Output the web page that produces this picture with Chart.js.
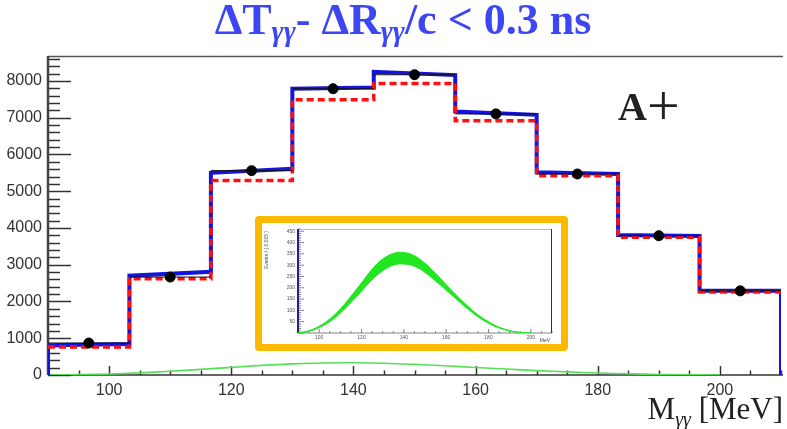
<!DOCTYPE html>
<html>
<head>
<meta charset="utf-8">
<script src="https://cdn.jsdelivr.net/npm/chart.js@4.4.0/dist/chart.umd.min.js"></script>
<style>
html, body { margin:0; padding:0; background:#fff; }
#wrap { position:relative; width:787px; height:429px; overflow:hidden; }
#inset { position:absolute; left:255px; top:216px; width:299px; height:121px;
         border:7px solid #ffb800; border-radius:4px; background:#fff; }
#inset canvas, #wrap > canvas { display:block; }
</style>
</head>
<body>
<div id="wrap">
  <canvas id="main" width="787" height="429"></canvas>
  <div id="inset"><canvas id="small" width="299" height="121"></canvas></div>
</div>
<script>
// histogram bins (MeV)
var binEdges   = [90, 103.33, 116.67, 130, 143.33, 156.67, 170, 183.33, 196.67, 210];
var binCenters = [96.67, 110, 123.33, 136.67, 150, 163.33, 176.67, 190, 203.33];

// data points, fit (blue, left/right end of each bin) and background (red dashed)
var dataCounts = [870, 2665, 5560, 7790, 8170, 7105, 5470, 3790, 2290];
var fitLeft    = [810, 2700, 5500, 7790, 8250, 7170, 5520, 3810, 2290];
var fitRight   = [845, 2810, 5610, 7820, 8160, 7080, 5470, 3780, 2290];
var bkgCounts  = [760, 2620, 5290, 7490, 7930, 6920, 5420, 3750, 2260];

// signal shape (green)
var massGrid   = [90, 95, 100, 105, 110, 115, 120, 125, 130, 135, 140, 145, 150, 155, 160, 165, 170, 175, 180, 185, 190, 195, 200];
var signalMain = [0, 9, 28, 58, 100, 152, 208, 262, 302, 328, 332, 320, 290, 250, 206, 162, 120, 84, 55, 32, 15, 5, 0];
var signalLow  = [0, 7, 24, 50, 88, 135, 185, 236, 275, 300, 305, 295, 268, 230, 190, 148, 108, 72, 43, 22, 9, 2, 0];
var signalHigh = [0, 10, 30, 62, 106, 162, 222, 282, 327, 352, 356, 342, 308, 263, 214, 166, 121, 81, 50, 26, 11, 3, 0];

var xTicks = [100, 120, 140, 160, 180, 200];
var yTicks = [0, 1000, 2000, 3000, 4000, 5000, 6000, 7000, 8000];
var insetXTicks = [100, 120, 140, 160, 180, 200];
var insetYTicks = [50, 100, 150, 200, 250, 300, 350, 400, 450];

var fitPoints = [{x: binEdges[0], y: 0}];
var bkgPoints = [];
var barPoints = [];
var dotPoints = [];
for (var i = 0; i < binCenters.length; i++) {
    fitPoints.push({x: binEdges[i], y: fitLeft[i]});
    fitPoints.push({x: binEdges[i + 1], y: fitRight[i]});
    bkgPoints.push({x: binEdges[i], y: bkgCounts[i]});
    barPoints.push({x: binEdges[i], y: dataCounts[i]});
    barPoints.push({x: binEdges[i + 1], y: dataCounts[i]});
    barPoints.push({x: binEdges[i + 1], y: null});
    dotPoints.push({x: binCenters[i], y: dataCounts[i]});
}
fitPoints.push({x: binEdges[binEdges.length - 1], y: 0});
bkgPoints.push({x: binEdges[binEdges.length - 1], y: bkgCounts[bkgCounts.length - 1]});

var sigMain = [], sigLow = [], sigHigh = [];
for (var j = 0; j < massGrid.length; j++) {
    sigMain.push({x: massGrid[j], y: signalMain[j]});
    sigLow.push({x: massGrid[j], y: signalLow[j]});
    sigHigh.push({x: massGrid[j], y: signalHigh[j]});
}

var plainLabel = function(v) { return String(v); };

var drawRich = function(ctx, parts, x, y, align) {
    var w = 0;
    parts.forEach(function(p) { ctx.font = p.font; w += ctx.measureText(p.text).width; });
    var cx = align === 'right' ? x - w : (align === 'center' ? x - w / 2 : x);
    ctx.textAlign = 'left';
    ctx.textBaseline = 'alphabetic';
    parts.forEach(function(p) {
        ctx.font = p.font;
        ctx.fillStyle = p.color;
        ctx.fillText(p.text, cx, y + (p.dy || 0));
        cx += ctx.measureText(p.text).width;
    });
};

var frame = {
    id: 'frame',
    beforeDatasetsDraw: function(chart) {
        var ctx = chart.ctx, a = chart.chartArea;
        var xs = chart.scales.x, ys = chart.scales.y;
        ctx.save();
        ctx.strokeStyle = '#333';
        ctx.lineWidth = 1.5;
        for (var v = 0; v <= ys.max; v += 200) {
            var py = Math.round(ys.getPixelForValue(v)) + 0.5;
            ctx.beginPath();
            ctx.moveTo(a.left, py);
            ctx.lineTo(a.left + (v % 1000 === 0 ? 23 : 12), py);
            ctx.stroke();
        }
        for (var m = 90; m <= 210; m += 5) {
            var px = Math.round(xs.getPixelForValue(m)) + 0.5;
            ctx.beginPath();
            ctx.moveTo(px, a.bottom);
            ctx.lineTo(px, a.bottom - (m % 20 === 0 ? 9 : 4.5));
            ctx.stroke();
        }
        ctx.strokeStyle = '#555';
        ctx.beginPath();
        ctx.moveTo(a.left, a.top + 0.5);
        ctx.lineTo(a.right + 2, a.top + 0.5);
        ctx.stroke();
        ctx.strokeStyle = '#333';
        ctx.beginPath();
        ctx.moveTo(a.left, a.bottom);
        ctx.lineTo(a.right + 2, a.bottom);
        ctx.stroke();
        ctx.lineWidth = 2.5;
        ctx.strokeStyle = '#444';
        ctx.beginPath();
        ctx.moveTo(a.left, a.top);
        ctx.lineTo(a.left, a.bottom);
        ctx.stroke();
        ctx.restore();
    },
    afterDraw: function(chart) {
        var ctx = chart.ctx;
        var blue = '#3c46f2';
        var big = 'bold 44px "Liberation Serif"';
        var sub = 'bold italic 29px "Liberation Serif"';
        ctx.save();
        drawRich(ctx, [
            {text: '\u0394T', font: big, color: blue},
            {text: '\u03b3\u03b3', font: sub, color: blue, dy: 7},
            {text: '- \u0394R', font: big, color: blue},
            {text: '\u03b3\u03b3', font: sub, color: blue, dy: 7},
            {text: '/c < 0.3 ns', font: big, color: blue}
        ], 403, 34, 'center');
        drawRich(ctx, [
            {text: 'M', font: '31px "Liberation Serif"', color: '#222'},
            {text: '\u03b3\u03b3', font: 'italic 20px "Liberation Serif"', color: '#222', dy: 7},
            {text: ' [MeV]', font: '31px "Liberation Serif"', color: '#222'}
        ], 783, 419, 'right');
        drawRich(ctx, [
            {text: 'A', font: 'bold 40px "Liberation Serif"', color: '#222'},
            {text: '+', font: '58px "Liberation Serif"', color: '#222', dy: 5}
        ], 618, 120, 'left');
        ctx.restore();
    }
};

var ctx = document.getElementById('main').getContext('2d');
var data = {
    datasets: [{
        data: sigMain,
        borderColor: '#55e055',
        borderWidth: 1.6,
        tension: 0.4,
        pointRadius: 0,
        order: 5
    }, {
        data: fitPoints,
        borderColor: '#1414e0',
        borderWidth: 4,
        pointRadius: 0,
        order: 4
    }, {
        data: bkgPoints,
        borderColor: '#ff1010',
        borderWidth: 3.5,
        borderDash: [7, 4],
        stepped: 'before',
        pointRadius: 0,
        order: 3
    }, {
        data: barPoints,
        borderColor: '#111',
        borderWidth: 1,
        spanGaps: false,
        pointRadius: 0,
        order: 2
    }, {
        data: dotPoints,
        showLine: false,
        pointRadius: 5,
        pointBackgroundColor: '#000',
        pointBorderColor: '#000',
        order: 1
    }]
};

var mainChart = new Chart(ctx, {
    type: 'line',
    data: data,
    options: {
        responsive: false,
        animation: false,
        devicePixelRatio: 1,
        layout: {padding: {left: 0, top: 56, right: 1, bottom: 24}},
        plugins: {legend: {display: false}, tooltip: {enabled: false}},
        scales: {
            x: {
                type: 'linear', min: 90, max: 210,
                afterBuildTicks: function(s) { s.ticks = xTicks.map(function(v) { return {value: v}; }); },
                afterFit: function(s) { s.height = 30; },
                grid: {display: false, drawTicks: false},
                border: {display: false},
                ticks: {padding: 6, color: '#333', maxRotation: 0, callback: plainLabel,
                        font: {family: 'Liberation Sans', size: 16}}
            },
            y: {
                min: 0, max: 8680,
                afterBuildTicks: function(s) { s.ticks = yTicks.map(function(v) { return {value: v}; }); },
                afterFit: function(s) { s.width = 48; },
                grid: {display: false, drawTicks: false},
                border: {display: false},
                ticks: {padding: 6, color: '#333', callback: plainLabel,
                        font: {family: 'Liberation Sans', size: 16}}
            }
        }
    },
    plugins: [frame]
});

var insetFrame = {
    id: 'insetFrame',
    beforeDatasetsDraw: function(chart) {
        var c = chart.ctx, a = chart.chartArea;
        var xs = chart.scales.x, ys = chart.scales.y;
        c.save();
        c.strokeStyle = '#666';
        c.lineWidth = 0.8;
        for (var v = 0; v <= ys.max; v += 10) {
            var py = ys.getPixelForValue(v);
            c.beginPath();
            c.moveTo(a.left, py);
            c.lineTo(a.left + (v % 50 === 0 ? 6 : 3), py);
            c.stroke();
        }
        for (var m = 90; m <= 210; m += 5) {
            var px = xs.getPixelForValue(m);
            c.beginPath();
            c.moveTo(px, a.bottom);
            c.lineTo(px, a.bottom - (m % 20 === 0 ? 4 : 2));
            c.stroke();
        }
        c.beginPath();
        c.moveTo(a.left, a.bottom);
        c.lineTo(a.right, a.bottom);
        c.stroke();
        c.strokeStyle = '#aaa';
        c.beginPath();
        c.moveTo(a.left, a.top + 0.5);
        c.lineTo(a.right, a.top + 0.5);
        c.stroke();
        c.strokeStyle = '#22228c';
        c.lineWidth = 2;
        c.beginPath();
        c.moveTo(a.left, a.top);
        c.lineTo(a.left, a.bottom);
        c.stroke();
        c.fillStyle = '#444';
        c.font = '5px "Liberation Sans"';
        c.textAlign = 'right';
        c.fillText('MeV', a.right - 2, 119);
        c.translate(6, a.top + 2);
        c.rotate(-Math.PI / 2);
        c.fillText('Events / ( 0.005 )', 0, 0);
        c.restore();
    }
};

var ctx2 = document.getElementById('small').getContext('2d');
var insetChart = new Chart(ctx2, {
    type: 'line',
    data: {
        datasets: [{
            data: sigLow,
            borderColor: '#22e622',
            borderWidth: 1,
            tension: 0.4,
            pointRadius: 0
        }, {
            data: sigHigh,
            borderColor: '#22e622',
            backgroundColor: '#22e622',
            borderWidth: 1,
            tension: 0.4,
            pointRadius: 0,
            fill: '-1'
        }, {
            data: [{x: 210, y: 0}, {x: 210, y: 460}],
            borderColor: '#1a1ae6',
            borderWidth: 2,
            pointRadius: 0
        }]
    },
    options: {
        responsive: false,
        animation: false,
        devicePixelRatio: 1,
        layout: {padding: {left: 0, top: 1, right: 9, bottom: 0}},
        plugins: {legend: {display: false}, tooltip: {enabled: false}},
        scales: {
            x: {
                type: 'linear', min: 90, max: 210,
                afterBuildTicks: function(s) { s.ticks = insetXTicks.map(function(v) { return {value: v}; }); },
                afterFit: function(s) { s.height = 11; },
                grid: {display: false, drawTicks: false},
                border: {display: false},
                ticks: {padding: 2, color: '#555', maxRotation: 0, callback: plainLabel,
                        font: {family: 'Liberation Sans', size: 5}}
            },
            y: {
                min: 0, max: 460,
                afterBuildTicks: function(s) { s.ticks = insetYTicks.map(function(v) { return {value: v}; }); },
                afterFit: function(s) { s.width = 36; },
                grid: {display: false, drawTicks: false},
                border: {display: false},
                ticks: {padding: 3, color: '#555', callback: plainLabel,
                        font: {family: 'Liberation Sans', size: 5}}
            }
        }
    },
    plugins: [insetFrame]
});
</script>
</body>
</html>
